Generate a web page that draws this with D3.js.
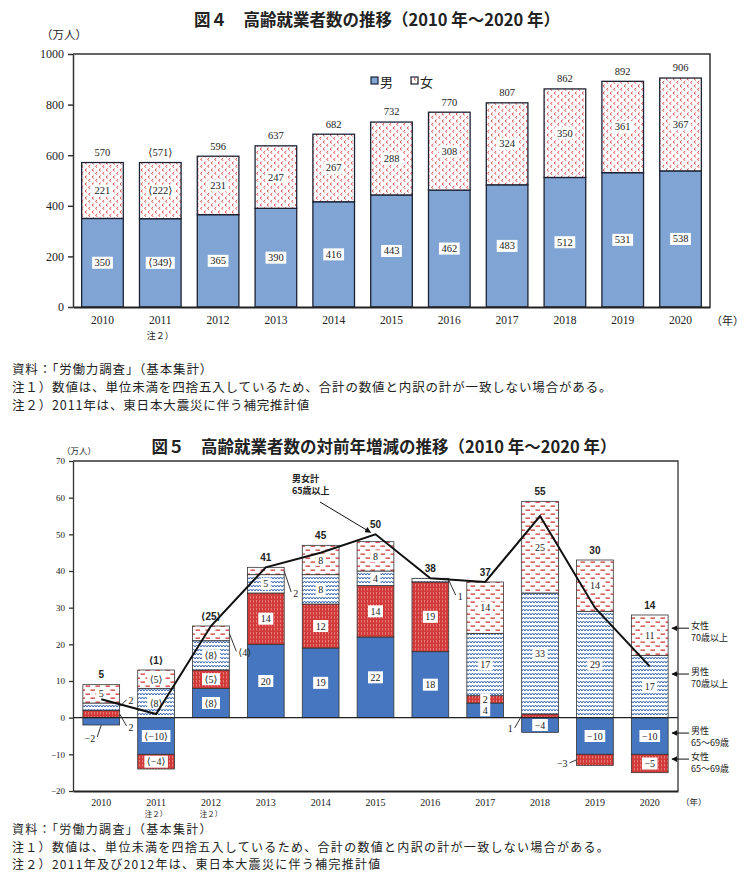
<!DOCTYPE html>
<html>
<head>
<meta charset="utf-8">
<script src="https://cdn.jsdelivr.net/npm/d3@7"></script>
<style>
  body { margin: 0; background: #fff; }
  svg text { fill: #222; }
  .num { font-family: "Liberation Serif", "DejaVu Serif", serif; }
</style>
</head>
<body>
<svg id="chart" width="750" height="883"></svg>
<script>
  // ---- 図４ data
  var years = ["2010", "2011", "2012", "2013", "2014", "2015", "2016", "2017", "2018", "2019", "2020"];
  var men = [350, 349, 365, 390, 416, 443, 462, 483, 512, 531, 538];
  var women = [221, 222, 231, 247, 267, 288, 308, 324, 350, 361, 367];
  var totals = [570, 571, 596, 637, 682, 732, 770, 807, 862, 892, 906];
  var yTicks4 = [0, 200, 400, 600, 800, 1000];
  var estimated4 = ["2011"];

  // ---- 図５ data (change from previous year)
  var male6569 = [-2, -10, 8, 20, 19, 22, 18, 4, -4, -10, -10];
  var female6569 = [2, -4, 5, 14, 12, 14, 19, 2, 1, -3, -5];
  var male70 = [2, 8, 8, 5, 8, 4, 1, 17, 33, 29, 17];
  var female70 = [5, 5, 4, 2, 8, 8, 0, 14, 25, 14, 11];
  var change = [5, 1, 25, 41, 45, 50, 38, 37, 55, 30, 14];
  var yTicks5 = [-20, -10, 0, 10, 20, 30, 40, 50, 60, 70];
  var estimated5 = ["2011", "2012"];

  var jp = "'Noto Sans CJK JP',sans-serif";
  var sans = "'Liberation Sans','DejaVu Sans',sans-serif";

  var svg = d3.select("#chart");
  var defs = svg.append("defs");

  // patterns
  var p = defs.append("pattern").attr("id", "pw4").attr("patternUnits", "userSpaceOnUse")
      .attr("width", 7).attr("height", 7);
  p.append("rect").attr("width", 7).attr("height", 7).attr("fill", "#fff");
  p.append("path").attr("d", "M2.8,0.6 L1,2 L2.8,3.4 M6.3,4 L4.5,5.4 L6.3,6.8")
      .attr("stroke", "#d94040").attr("stroke-width", 0.9).attr("fill", "none");

  p = defs.append("pattern").attr("id", "pf65").attr("patternUnits", "userSpaceOnUse")
      .attr("width", 3).attr("height", 4);
  p.append("rect").attr("width", 3).attr("height", 4).attr("fill", "#d23a3a");
  p.append("line").attr("x1", 1.5).attr("x2", 1.5).attr("y1", 0).attr("y2", 2.5)
      .attr("stroke", "#f2a7a7").attr("stroke-width", 0.6);

  p = defs.append("pattern").attr("id", "pm70").attr("patternUnits", "userSpaceOnUse")
      .attr("width", 6).attr("height", 4);
  p.append("rect").attr("width", 6).attr("height", 4).attr("fill", "#fff");
  p.append("path").attr("d", "M0,3 L1.5,1 L3,3 L4.5,1 L6,3")
      .attr("stroke", "#3a68b2").attr("stroke-width", 1).attr("fill", "none");

  p = defs.append("pattern").attr("id", "pf70").attr("patternUnits", "userSpaceOnUse")
      .attr("width", 10).attr("height", 8);
  p.append("rect").attr("width", 10).attr("height", 8).attr("fill", "#fff");
  p.append("rect").attr("x", 0.5).attr("y", 1.5).attr("width", 4.5).attr("height", 1.3).attr("fill", "#d23a3a");
  p.append("rect").attr("x", 5.5).attr("y", 5.5).attr("width", 4.5).attr("height", 1.3).attr("fill", "#d23a3a");

  defs.append("marker").attr("id", "arrow").attr("viewBox", "0 0 10 10")
      .attr("refX", 9).attr("refY", 5).attr("markerWidth", 6).attr("markerHeight", 6)
      .attr("orient", "auto")
      .append("path").attr("d", "M0,0 L10,5 L0,10 z").attr("fill", "#111");

  function fmt(v, year, est) {
    return est.indexOf(year) >= 0 ? "\u27e8" + v + "\u27e9" : "" + v;
  }

  // text with a white box behind
  function boxText(g, x, y, str, size) {
    var t = g.append("text").attr("class", "num").attr("x", x).attr("y", y)
        .attr("text-anchor", "middle").attr("dominant-baseline", "central")
        .attr("font-size", size).text(str);
    var b = t.node().getBBox();
    g.insert("rect", function () { return t.node(); })
        .attr("x", b.x - 2.5).attr("y", b.y - 0.5).attr("width", b.width + 5).attr("height", b.height + 1)
        .attr("fill", "#fff");
  }

  // ================= 図４ =================
  svg.append("text").attr("x", 377).attr("y", 26).attr("text-anchor", "middle")
      .attr("font-family", jp).attr("font-weight", "bold").attr("font-size", 16.5)
      .text("図４　高齢就業者数の推移（2010 年～2020 年）");
  svg.append("text").attr("x", 41).attr("y", 39).attr("font-family", jp).attr("font-size", 11.5)
      .attr("fill", "#444").text("（万人）");

  var x4 = d3.scaleBand().domain(years).range([73, 710]).paddingInner(0.28).paddingOuter(0.15);
  var y4 = d3.scaleLinear().domain([0, 1000]).range([307, 54]);

  var g4 = svg.append("g");
  var rows4 = years.map(function (y, i) { return { year: y, men: men[i], women: women[i], total: totals[i] }; });
  var stack4 = d3.stack().keys(["men", "women"])(rows4);

  g4.selectAll("g.layer").data(stack4).enter().append("g").attr("class", "layer")
      .attr("fill", function (d) { return d.key === "men" ? "#80a5d4" : "url(#pw4)"; })
      .selectAll("rect").data(function (d) { return d; }).enter().append("rect")
      .attr("x", function (d) { return x4(d.data.year); })
      .attr("width", x4.bandwidth())
      .attr("y", function (d) { return y4(d[1]); })
      .attr("height", function (d) { return y4(d[0]) - y4(d[1]); })
      .attr("stroke", "#1c2233").attr("stroke-width", 1.3);

  stack4.forEach(function (layer) {
    layer.forEach(function (d) {
      boxText(g4, x4(d.data.year) + x4.bandwidth() / 2, y4((d[0] + d[1]) / 2),
          fmt(d.data[layer.key], d.data.year, estimated4), 10.5);
    });
  });
  rows4.forEach(function (d) {
    g4.append("text").attr("class", "num").attr("x", x4(d.year) + x4.bandwidth() / 2).attr("y", y4(d.total) - 10)
        .attr("text-anchor", "middle").attr("dominant-baseline", "central")
        .attr("font-size", 10.5)
        .text(fmt(d.total, d.year, estimated4));
  });

  // frame + axes
  g4.append("path").attr("d", "M73,54 H710 V307").attr("fill", "none").attr("stroke", "#333").attr("stroke-width", 1.5);
  var ay4 = g4.append("g").attr("transform", "translate(73,0)")
      .call(d3.axisLeft(y4).tickValues(yTicks4).tickFormat(d3.format("d"))
          .tickSize(5).tickSizeOuter(0).tickPadding(4));
  ay4.attr("font-family", null);
  ay4.selectAll("text").attr("class", "num").attr("font-size", 12).attr("fill", "#222");
  ay4.selectAll("line, path").attr("stroke", "#333").attr("stroke-width", 1.5);
  var ax4 = g4.append("g").attr("transform", "translate(0,307)")
      .call(d3.axisBottom(x4).tickSize(0).tickSizeOuter(0).tickPadding(9));
  ax4.attr("font-family", null);
  ax4.select("path").attr("stroke", "#222").attr("stroke-width", 2);
  ax4.selectAll("text").attr("class", "num").attr("font-size", 11.5).attr("fill", "#222");
  estimated4.forEach(function (y) {
    g4.append("text").attr("x", x4(y) + x4.bandwidth() / 2).attr("y", 339).attr("text-anchor", "middle")
        .attr("font-family", jp).attr("font-size", 9).attr("fill", "#555").text("注２）");
  });
  g4.append("text").attr("x", 711).attr("y", 325).attr("font-family", jp).attr("font-size", 11)
      .attr("fill", "#444").text("（年）");

  // legend
  g4.append("rect").attr("x", 371).attr("y", 77).attr("width", 7).attr("height", 7)
      .attr("fill", "#80a5d4").attr("stroke", "#1c2233").attr("stroke-width", 1.2);
  g4.append("text").attr("x", 380).attr("y", 81).attr("dominant-baseline", "central")
      .attr("font-family", jp).attr("font-size", 13).text("男");
  g4.append("rect").attr("x", 411).attr("y", 77).attr("width", 7).attr("height", 7)
      .attr("fill", "url(#pw4)").attr("stroke", "#1c2233").attr("stroke-width", 1.2);
  g4.append("text").attr("x", 420).attr("y", 81).attr("dominant-baseline", "central")
      .attr("font-family", jp).attr("font-size", 13).text("女");

  var notes4 = ["資料：「労働力調査」（基本集計）",
    "注１）数値は、単位未満を四捨五入しているため、合計の数値と内訳の計が一致しない場合がある。",
    "注２）2011年は、東日本大震災に伴う補完推計値"];
  notes4.forEach(function (s, i) {
    svg.append("text").attr("x", 12).attr("y", 374 + i * 18).attr("font-family", jp)
        .attr("font-size", 12.5).attr("letter-spacing", 0.85).text(s);
  });

  // ================= 図５ =================
  svg.append("text").attr("x", 384).attr("y", 453).attr("text-anchor", "middle")
      .attr("font-family", jp).attr("font-weight", "bold").attr("font-size", 16.5)
      .text("図５　高齢就業者数の対前年増減の推移（2010 年～2020 年）");
  svg.append("text").attr("x", 62).attr("y", 454).attr("font-family", jp).attr("font-size", 8.5)
      .attr("fill", "#444").text("（万人）");

  var x5 = d3.scaleBand().domain(years).range([73, 678]).paddingInner(0.33).paddingOuter(0.18);
  var y5 = d3.scaleLinear().domain([-20, 70]).range([791, 461]);
  var keys5 = ["male6569", "female6569", "male70", "female70"];
  var fills5 = { male6569: "#4676bf", female6569: "url(#pf65)", male70: "url(#pm70)", female70: "url(#pf70)" };
  var rows5 = years.map(function (y, i) {
    return { year: y, male6569: male6569[i], female6569: female6569[i], male70: male70[i], female70: female70[i], change: change[i] };
  });
  var stack5 = d3.stack().keys(keys5).offset(d3.stackOffsetDiverging)(rows5);
  var g5 = svg.append("g");
  var cx5 = function (y) { return x5(y) + x5.bandwidth() / 2; };

  g5.selectAll("g.layer").data(stack5).enter().append("g").attr("class", "layer")
      .attr("fill", function (d) { return fills5[d.key]; })
      .selectAll("rect").data(function (d) { return d.filter(function (e) { return e[1] !== e[0]; }); })
      .enter().append("rect")
      .attr("x", function (d) { return x5(d.data.year); })
      .attr("width", x5.bandwidth())
      .attr("y", function (d) { return y5(Math.max(d[0], d[1])); })
      .attr("height", function (d) { return Math.abs(y5(d[0]) - y5(d[1])); })
      .attr("stroke", "#333").attr("stroke-width", 0.8);

  // small segments labelled outside with a leader line
  var callouts = [
    { year: "2010", key: "male70", side: "right", dy: -7 },
    { year: "2010", key: "female6569", side: "right", dy: 12 },
    { year: "2010", key: "male6569", side: "below", dy: 12 },
    { year: "2012", key: "female70", side: "right", dy: 18 },
    { year: "2013", key: "female70", side: "right", dy: 21 },
    { year: "2016", key: "male70", side: "right", dy: 15 },
    { year: "2018", key: "female6569", side: "left", dy: 12 },
    { year: "2019", key: "female6569", side: "left", dy: 3 }
  ];
  function findCallout(year, key) {
    return callouts.filter(function (c) { return c.year === year && c.key === key; })[0];
  }

  stack5.forEach(function (layer) {
    layer.forEach(function (d) {
      var v = d.data[layer.key];
      if (v === 0) return;
      var label = fmt(v, d.data.year, estimated5).replace("-", "−");
      var mid = y5((d[0] + d[1]) / 2);
      var c = findCallout(d.data.year, layer.key);
      if (!c) {
        boxText(g5, cx5(d.data.year), mid, label, 10);
        return;
      }
      var x0, y0, x1, y1, tx, anchor;
      if (c.side === "right") {
        x0 = x5(d.data.year) + x5.bandwidth(); y0 = mid; x1 = x0 + 7; y1 = mid + c.dy; tx = x1 + 2; anchor = "start";
      } else if (c.side === "left") {
        x0 = x5(d.data.year); y0 = mid; x1 = x0 - 7; y1 = mid + c.dy; tx = x1 - 2; anchor = "end";
      } else {
        x0 = cx5(d.data.year); y0 = y5(Math.min(d[0], d[1])); x1 = x0 - 4; y1 = y0 + c.dy; tx = x1 - 2; anchor = "end";
      }
      g5.append("path").attr("d", "M" + x0 + "," + y0 + " L" + x1 + "," + y1)
          .attr("stroke", "#333").attr("stroke-width", 1).attr("fill", "none");
      g5.append("text").attr("class", "num").attr("x", tx).attr("y", y1 + 1).attr("text-anchor", anchor)
          .attr("dominant-baseline", "central").attr("font-size", 10)
          .attr("fill", "#333").text(label);
    });
  });

  // zero line, frame, axes
  g5.append("line").attr("x1", 73).attr("x2", 678).attr("y1", y5(0)).attr("y2", y5(0))
      .attr("stroke", "#222").attr("stroke-width", 1.2);
  g5.append("path").attr("d", "M73,461 H678 V791").attr("fill", "none").attr("stroke", "#333").attr("stroke-width", 1.3);
  var ay5 = g5.append("g").attr("transform", "translate(73,0)")
      .call(d3.axisLeft(y5).tickValues(yTicks5).tickSize(4).tickSizeOuter(0).tickPadding(4));
  ay5.attr("font-family", null);
  ay5.selectAll("text").attr("class", "num").attr("font-size", 9).attr("fill", "#333");
  ay5.selectAll("line, path").attr("stroke", "#333").attr("stroke-width", 1.3);
  var ax5 = g5.append("g").attr("transform", "translate(0,791)")
      .call(d3.axisBottom(x5).tickSize(0).tickSizeOuter(0).tickPadding(8));
  ax5.attr("font-family", null);
  ax5.select("path").attr("stroke", "#222").attr("stroke-width", 2);
  ax5.selectAll("text").attr("class", "num").attr("font-size", 10).attr("fill", "#222");
  estimated5.forEach(function (y) {
    g5.append("text").attr("x", cx5(y)).attr("y", 816.5).attr("text-anchor", "middle")
        .attr("font-family", jp).attr("font-size", 7.5).attr("fill", "#555").text("注２）");
  });
  g5.append("text").attr("x", 681).attr("y", 805).attr("font-family", jp).attr("font-size", 8.5)
      .attr("fill", "#444").text("（年）");

  // total line
  g5.append("path").datum(rows5)
      .attr("d", d3.line().x(function (d) { return cx5(d.year); }).y(function (d) { return y5(d.change); }))
      .attr("fill", "none").attr("stroke", "#111").attr("stroke-width", 2);
  rows5.forEach(function (d) {
    var pos = d3.sum([d.male6569, d.female6569, d.male70, d.female70].filter(function (v) { return v > 0; }));
    g5.append("text").attr("x", cx5(d.year)).attr("y", y5(Math.max(pos, d.change)) - 10)
        .attr("text-anchor", "middle").attr("dominant-baseline", "central")
        .attr("font-family", sans).attr("font-weight", "bold").attr("font-size", 10)
        .text(fmt(d.change, d.year, estimated5));
  });

  // annotation for the line
  var peak = rows5[5];
  g5.append("text").attr("x", 292).attr("y", 482).attr("font-family", jp).attr("font-weight", "bold")
      .attr("font-size", 9).text("男女計");
  g5.append("text").attr("x", 292).attr("y", 494).attr("font-family", jp).attr("font-weight", "bold")
      .attr("font-size", 9).text("65歳以上");
  g5.append("line").attr("x1", 320).attr("y1", 502)
      .attr("x2", cx5(peak.year) - 5).attr("y2", y5(peak.change) - 2)
      .attr("stroke", "#111").attr("stroke-width", 1).attr("marker-end", "url(#arrow)");

  // series labels at the right
  var sideLabels = [
    { v: 24.4, a: "女性", b: "70歳以上" },
    { v: 11.9, a: "男性", b: "70歳以上" },
    { v: -4.2, a: "男性", b: "65～69歳" },
    { v: -11.3, a: "女性", b: "65～69歳" }
  ];
  sideLabels.forEach(function (s) {
    var yy = y5(s.v);
    g5.append("line").attr("x1", 689).attr("x2", 672).attr("y1", yy).attr("y2", yy)
        .attr("stroke", "#111").attr("stroke-width", 1).attr("marker-end", "url(#arrow)");
    g5.append("text").attr("x", 691).attr("y", yy - 3).attr("dominant-baseline", "central")
        .attr("font-family", jp).attr("font-size", 9).attr("fill", "#333").text(s.a);
    g5.append("text").attr("x", 691).attr("y", yy + 9).attr("dominant-baseline", "central")
        .attr("font-family", jp).attr("font-size", 9).attr("fill", "#333").text(s.b);
  });

  var notes5 = ["資料：「労働力調査」（基本集計）",
    "注１）数値は、単位未満を四捨五入しているため、合計の数値と内訳の計が一致しない場合がある。",
    "注２）2011年及び2012年は、東日本大震災に伴う補完推計値"];
  notes5.forEach(function (s, i) {
    svg.append("text").attr("x", 12).attr("y", 834 + i * 17.5).attr("font-family", jp)
        .attr("font-size", 12).attr("letter-spacing", 1.3).text(s);
  });
</script>
</body>
</html>
